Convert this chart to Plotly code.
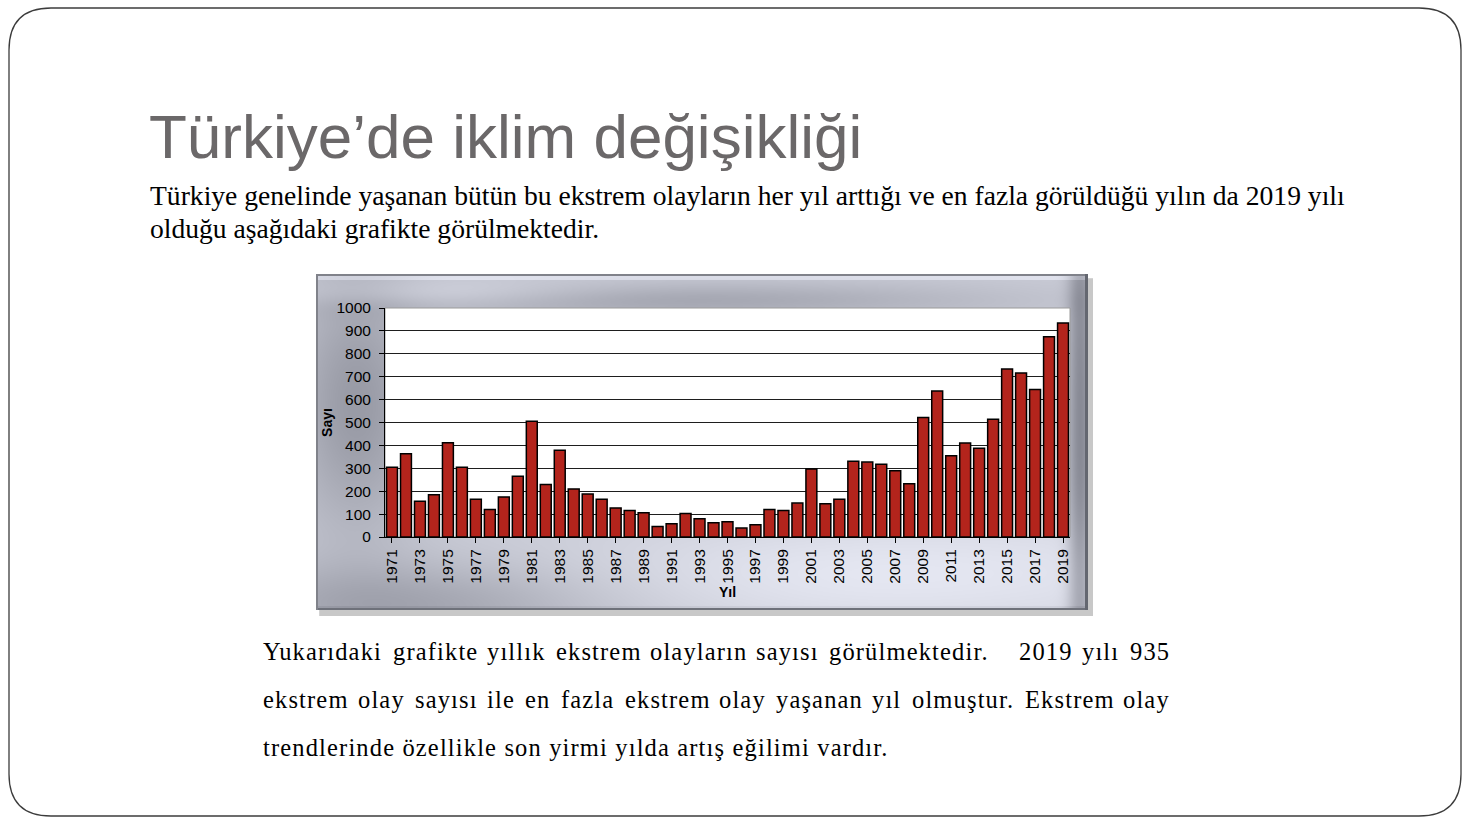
import base64, struct, zlib
import numpy as np
import plotly.graph_objects as go

# ---------------- data ----------------
years = [str(y) for y in range(1971, 2020)]
counts = [305, 363, 156, 184, 412, 305, 165, 120, 175, 265,
          505, 229, 379, 210, 188, 165, 127, 116, 106, 46,
          58, 103, 80, 62, 67, 39, 54, 120, 116, 148,
          297, 145, 165, 331, 327, 318, 289, 233, 522, 638,
          355, 410, 388, 514, 734, 716, 644, 874, 935]
tick_years = years[::2]
y_ticks = list(range(0, 1001, 100))

title_text = "Türkiye’de iklim değişikliği"
sub_lines = ["Türkiye genelinde yaşanan bütün bu ekstrem olayların her yıl arttığı ve en fazla görüldüğü yılın da 2019 yılı",
             "olduğu aşağıdaki grafikte görülmektedir."]
body_line1 = ["Yukarıdaki", "grafikte", "yıllık", "ekstrem", "olayların", "sayısı", "görülmektedir.", "", "", "2019", "yılı", "935"]
body_line2 = ["ekstrem", "olay", "sayısı", "ile", "en", "fazla", "ekstrem", "olay", "yaşanan", "yıl", "olmuştur.", "Ekstrem", "olay"]
body_line3 = "trendlerinde özellikle son yirmi yılda artış eğilimi vardır."

W, H = 1471, 828
def px(x): return x / W
def py(y): return 1 - y / H

# approximate Times glyph advance widths (1/1000 em) for layout of justified lines
TW = {c: 444 for c in "aceszç"}
TW.update({c: 500 for c in "bdghknopquüvyxöğ0123456789"})
TW.update({c: 278 for c in "ijltıf"}); TW["f"] = 333
TW.update({"m": 778, "r": 333, "s": 389, "ş": 389, "w": 722, ".": 250,
           "E": 611, "Y": 722, " ": 250})
def word_w(wd, size, ls):
    return sum(TW.get(c, 500) for c in wd) * size / 1000 * 0.975 + len(wd) * ls

BODY_SIZE, BODY_LS = 24.5, 1.15
BL, BR = 262, 1168

# ------------- metallic frame image (with soft shadow) -------------
FW, FH = 772, 336
SW, SH = FW + 5, FH + 6
u = np.arange(FW)[None, :].astype(float)
v = np.arange(FH)[:, None].astype(float)
def blob(cx, cy, sx, sy, a):
    return a * np.exp(-(((u - cx) / sx) ** 2 + ((v - cy) / sy) ** 2) / 2)
g = np.full((FH, FW), 203.0)
g += blob(40, 130, 45, 90, -45)
g += blob(90, 330, 140, 30, -38)
g += blob(764, 168, 9, 220, -68)
g += blob(330, 26, 230, 12, -34)
g += blob(560, 300, 230, 45, 30)
g += blob(120, 20, 120, 10, 24)
g += blob(900, 200, 150, 150, 10)
g[:6, :] += 25
g[-4:, :] -= 12
g = np.clip(g, 0, 255)
frame = np.stack([g - 5, g - 3, g + 8], axis=-1)
frame[:2, :] = [128, 130, 138]; frame[-2:, :] = [110, 113, 122]
frame[:, :2] = [128, 130, 138]; frame[:, -3:] = [100, 103, 112]
full = np.full((SH, SW, 3), 255.0)
full[4:, 3:] = 212  # shadow
full[5:, 4:] = 200
full[:FH, :FW] = frame
img = np.clip(full, 0, 255).astype(np.uint8)

def png_uri(arr):
    h, w, _ = arr.shape
    raw = b"".join(b"\x00" + arr[i].tobytes() for i in range(h))
    def chunk(t, d):
        c = struct.pack(">I", len(d)) + t + d
        return c + struct.pack(">I", zlib.crc32(t + d) & 0xffffffff)
    png = (b"\x89PNG\r\n\x1a\n" + chunk(b"IHDR", struct.pack(">IIBBBBB", w, h, 8, 2, 0, 0, 0))
           + chunk(b"IDAT", zlib.compress(raw, 9)) + chunk(b"IEND", b""))
    return "data:image/png;base64," + base64.b64encode(png).decode()

# ---------------- figure ----------------
fig = go.Figure()
fig.add_trace(go.Bar(x=years, y=counts, marker=dict(color="#b3241c", line=dict(color="#000000", width=1.5)),
                     hoverinfo="x+y"))

PL, PR, PT, PB = 385, 1070, 308, 537
fig.update_layout(
    width=W, height=H, margin=dict(l=0, r=0, t=0, b=0),
    paper_bgcolor="white", plot_bgcolor="white", showlegend=False, bargap=0.22,
    font=dict(family="Liberation Sans, Arial", color="#000"),
    xaxis=dict(domain=[px(PL), px(PR)], type="category", tickmode="array", tickvals=tick_years,
               tickangle=-90, ticks="outside", ticklen=5, tickcolor="#000",
               showline=True, linecolor="#000", linewidth=1, automargin=False,
               tickfont=dict(size=15.5, family="Liberation Sans, Arial"),
               title=dict(text="<b>Yıl</b>", font=dict(size=14), standoff=3)),
    yaxis=dict(domain=[py(PB), py(PT)], range=[0, 1000], tickvals=y_ticks, ticks="outside", ticklen=5,
               tickcolor="#000", showline=True, linecolor="#000", linewidth=1, automargin=False,
               showgrid=True, gridcolor="#1e1e1e", gridwidth=1, zeroline=False, ticklabelstandoff=5,
               tickfont=dict(size=15.5, family="Liberation Sans, Arial"),
               title=dict(text="<b>Sayı</b>", font=dict(size=14), standoff=0)),
)

fig.add_layout_image(source=png_uri(img), xref="paper", yref="paper", x=px(316), y=py(274),
                     sizex=SW / W, sizey=SH / H, sizing="stretch", xanchor="left", yanchor="top", layer="below")
fig.add_shape(type="rect", xref="paper", yref="paper", x0=px(PL), x1=px(PR), y0=py(PB), y1=py(PT),
              fillcolor="white", line=dict(color="#9a9a9a", width=1), layer="below")

# slide rounded border
r = 42
L, R, T, B = 9, 1461, 8, 816
path = (f"M {px(L+r)},{py(T)} L {px(R-r)},{py(T)} Q {px(R)},{py(T)} {px(R)},{py(T+r)} "
        f"L {px(R)},{py(B-r)} Q {px(R)},{py(B)} {px(R-r)},{py(B)} "
        f"L {px(L+r)},{py(B)} Q {px(L)},{py(B)} {px(L)},{py(B-r)} "
        f"L {px(L)},{py(T+r)} Q {px(L)},{py(T)} {px(L+r)},{py(T)} Z")
fig.add_shape(type="path", xref="paper", yref="paper", path=path, line=dict(color="#3c3c3c", width=1.3),
              layer="below")

def text(x, y, s, size, color="#000", family="Liberation Serif, Times New Roman", anchor="left"):
    fig.add_annotation(xref="paper", yref="paper", x=px(x), y=py(y), text=s, showarrow=False,
                       xanchor=anchor, yanchor="middle", align="left",
                       font=dict(size=size, color=color, family=family))

text(147, 136, title_text, 62, color="#6b6869", family="Liberation Sans, Arial")
text(148, 196, sub_lines[0], 27.6)
text(148, 228, sub_lines[1], 27.6)

def body_line(words, y):
    widths = [word_w(w_, BODY_SIZE, BODY_LS) for w_ in words]
    gap = (BR - BL - sum(widths)) / (len(words) - 1)
    x = BL
    for w_, wd in zip(words, widths):
        if w_:
            text(x - 1, y, f'<span style="letter-spacing:{BODY_LS}px">{w_}</span>', BODY_SIZE)
        x += wd + gap

body_line(body_line1, 651)
body_line(body_line2, 699)
text(BL - 1, 747, f'<span style="letter-spacing:{BODY_LS}px">{body_line3}</span>', BODY_SIZE)

fig.write_html("out.html")
